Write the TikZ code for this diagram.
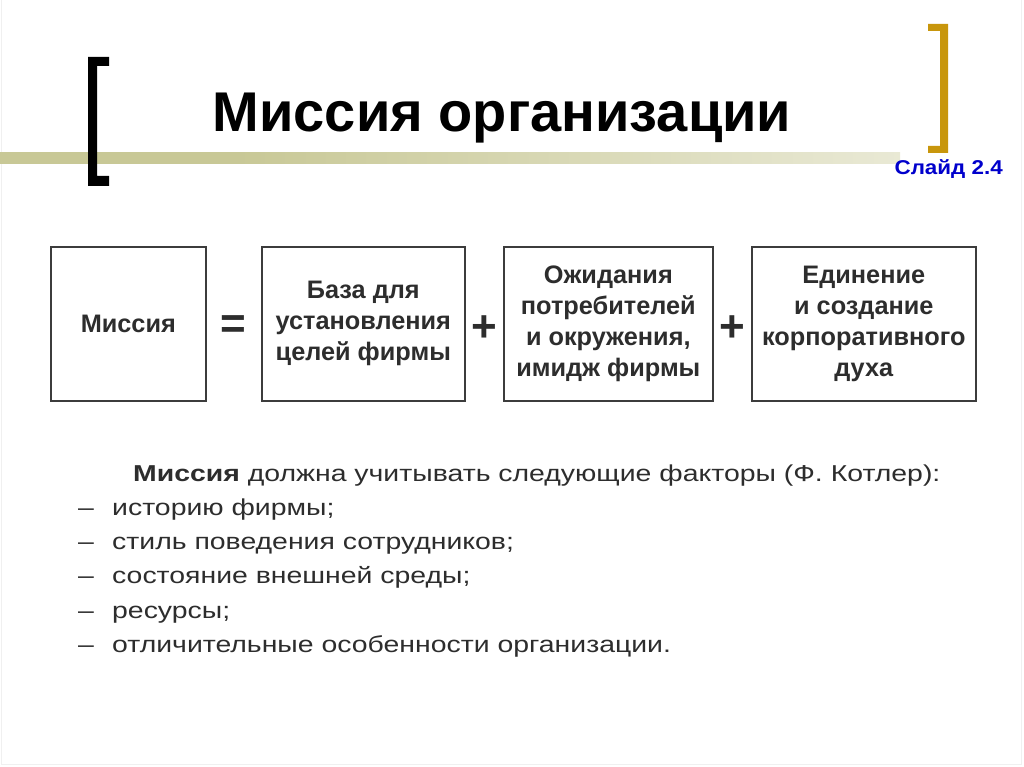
\documentclass[tikz,border=0pt]{standalone}
\usepackage{fontspec}
\setmainfont{Liberation Sans}
\newfontfamily\widesans[FakeStretch=1.235]{Liberation Sans}
\newfontfamily\slidesans[FakeStretch=1.12]{Liberation Sans}
\usetikzlibrary{calc}
\definecolor{khaki}{RGB}{200,200,150}
\definecolor{gold}{RGB}{200,150,12}
\definecolor{slideblue}{RGB}{0,0,204}
\definecolor{txt}{RGB}{45,45,45}
\definecolor{boxline}{RGB}{60,60,60}
\pgfdeclarehorizontalshading{band}{100bp}{color(0bp)=(khaki); color(38bp)=(khaki); color(100bp)=(white)}
\begin{document}
\begin{tikzpicture}[x=1pt,y=-1pt,
  box/.style={draw=boxline,line width=1.6pt,anchor=north west,inner sep=0pt,
    align=center,text=txt,font=\bfseries\fontsize{25.3}{31}\selectfont},
  op/.style={text=txt,font=\bfseries\fontsize{44}{44}\selectfont,inner sep=0pt},
  item/.style={anchor=base west,text=txt,inner sep=0pt,font=\widesans\fontsize{23}{23}\selectfont}]
\useasboundingbox (0,0) rectangle (1024,767);
\fill[white] (0,0) rectangle (1024,767);
\draw[gray!12,line width=1pt] (1.5,0) -- (1.5,764.5) -- (1021,764.5) -- (1021,0);
% gradient band
\shade[shading=band] (0,153) rectangle (900,164);
% brackets
\fill[black] (88,57) rectangle (109,66) (88,57) rectangle (97,186) (88,176) rectangle (109,186);
\fill[gold] (928,24) rectangle (948,31) (940,24) rectangle (948,153) (928,146) rectangle (948,153);
% title
\node[font=\bfseries\fontsize{56}{56}\selectfont,anchor=base,inner sep=0pt] (title) at (502,132) {Миссия организации};
\node[font=\slidesans\bfseries\fontsize{20}{20}\selectfont,text=slideblue,anchor=base east,inner sep=0pt] (slide) at (1003,175) {Слайд 2.4};
% boxes
\node[box,minimum width=155pt,minimum height=154pt] (b1) at (50,246) {Миссия};
\node[box,minimum width=203pt,minimum height=154pt] (b2) at (261,246) {База для\\установления\\целей фирмы};
\node[box,minimum width=209pt,minimum height=154pt] (b3) at (503,246) {Ожидания\\потребителей\\и окружения,\\имидж фирмы};
\node[box,minimum width=224pt,minimum height=154pt] (b4) at (751,246) {Единение\\и создание\\корпоративного\\духа};
\node[op,yshift=-3pt] (eq) at ($(b1.east)!0.5!(b2.west)$) {=};
\node[op,yshift=-5pt] (p1) at ($(b2.east)!0.5!(b3.west)$) {+};
\node[op,yshift=-5pt] (p2) at ($(b3.east)!0.5!(b4.west)$) {+};
% text
\node[item] (l0) at (133,481) {\bfseries Миссия\mdseries{} должна учитывать следующие факторы (Ф. Котлер):};
\foreach \t [count=\i] in {историю фирмы;,стиль поведения сотрудников;,состояние внешней среды;,ресурсы;,отличительные особенности организации.}{
  \node[item] (d\i) at (78,481+34.3*\i) {–};
  \node[item] (l\i) at (112,481+34.3*\i) {\t};
}
\end{tikzpicture}
\end{document}
